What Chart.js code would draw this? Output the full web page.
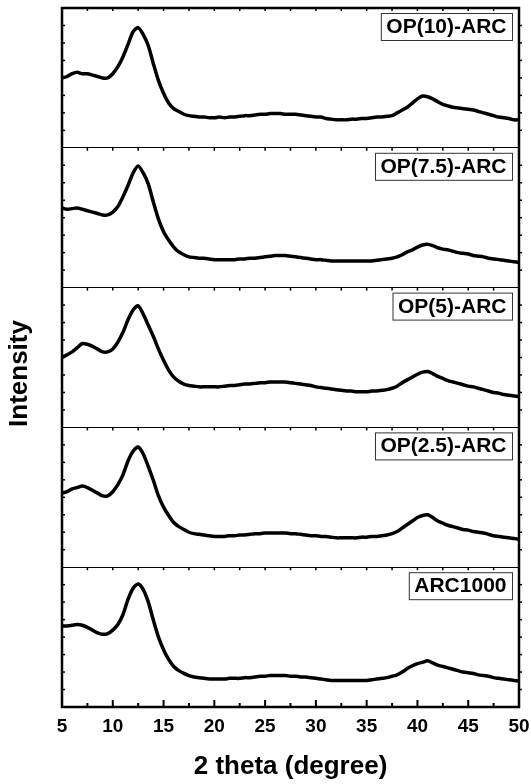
<!DOCTYPE html>
<html>
<head>
<meta charset="utf-8">
<script src="https://cdn.jsdelivr.net/npm/chart.js@4.4.1/dist/chart.umd.min.js"></script>
<style>
  html, body { margin: 0; padding: 0; background: #fff; }
</style>
</head>
<body>
<canvas id="mycanvas" width="531" height="784"></canvas>
<script>
// 2 theta sampling grid (degree)
var twoTheta = [5,5.5,6,6.5,7,7.5,8,8.5,9,9.5,10,10.5,11,11.5,12,12.5,13,13.5,14,14.5,15,15.5,16,16.5,17,17.5,18,18.5,19,19.5,
  20,20.5,21,21.5,22,22.5,23,23.5,24,24.5,25,25.5,26,26.5,27,27.5,28,28.5,29,29.5,30,30.5,31,31.5,32,32.5,33,33.5,34,34.5,
  35,35.5,36,36.5,37,37.5,38,38.5,39,39.5,40,40.5,41,41.5,42,42.5,43,43.5,44,44.5,45,45.5,46,46.5,47,47.5,48,48.5,49,49.5,50];

// intensities, each panel scaled 0-100
var arc1000 = [58,58,58.5,59,58.5,57,55,53,52,52.5,55,59,66,77,85,88,84,75,62,50,41,34,29,26,24,22.5,21.5,21,20.5,20,
  20,20,20,20.5,20.5,20.5,21,21,21.5,22,22,22.5,22.5,22.5,22.5,22,22,21.5,21.5,21,20.5,20,19.5,19,19,19,19,19,19,19,
  19,19.5,20,20.5,21,22,23,25,27.5,29.5,31,32,33,31.5,30,29,28,27,26,25,24.5,24,23,22.5,22,21,20.5,20,19.5,19,18.5];
var op25 = [53,54,56,57,58,57,55,53,51,51,54,59,66,76,83,86,81,72,62,51,43,37,32,29,27,25,24,23.5,23,22.5,
  22,22,22,22.5,22.5,23,23,23.5,24,24,24.5,24.5,24.5,24.5,24.5,24,24,23.5,23,22.5,22.5,22,22,21.5,21,21,21,21,21,21.5,
  21.5,22,22,22.5,23,24,25.5,28,30.5,33,35.5,37,37.5,35.5,33,31.5,30,29,28,27,26.5,25.5,25,24.5,23.5,22.5,22,21.5,21,20.5,20];
var op5 = [50,52,54,57,60,59.5,58,56,54,54,56,61,68,77,84,87,81,73,65,56,48,41,36,33,31,30,29.5,29,29,29,
  29,29,29.5,30,30,30.5,31,31,31.5,32,32,32.5,32.5,32.5,32.5,32,31.5,31,30.5,30,29,28.5,28,27.5,27,26.5,26,26,25.5,25.5,
  25.5,26,26,26.5,27,28,29.5,32,34,36,38,39.5,40,38.5,36.5,35,33.5,32.5,31.5,30.5,29.5,29,28,27,26,25,24.5,23.5,23,22.5,22];
var op75 = [57,56,56.5,57,56,55,54,53,52,52,54,58,65,73,82,87,82,74,61,49,40,34,29,25.5,23.5,22,21.5,21,21,20.5,
  20,20,20,20,20,20.5,20.5,21,21,21.5,22,22.5,23,23,23,22.5,22,21.5,21,20.5,20,20,19.5,19,19,19,19,19,19,19,
  19,19,19.5,20,20.5,21,22,23.5,25.5,27,29,30.5,31,30,28.5,27.5,27,26,25,24.5,24,23,22.5,22,21,20.5,20,19.5,19,18.5,18];
var op10 = [50,51,53,54,53,53,52,51,50,50,53,58,65,74,83,86,81,73,60,48,39,32,28,26,24,23,22.5,22,22,21.5,
  21.5,22,21.5,22,22,22.5,23,23,23.5,24,24,24.5,24.5,24.5,24,24,24,23.5,23,22.5,22,22,21,20.5,20,20,20,20.5,20.5,21,
  21,21.5,22,22,22.5,23,25,27,29,32,35,37,36.5,35,33,31,30,29,28.5,28,27.5,27,26,25,24,23,22,21.5,21,20,20];

// bottom to top
var panelLabels = ['ARC1000', 'OP(2.5)-ARC', 'OP(5)-ARC', 'OP(7.5)-ARC', 'OP(10)-ARC'];
var panelSeries = [arc1000, op25, op5, op75, op10];
var panelSize = 100;

Chart.defaults.font.family = '"Liberation Sans", Arial, sans-serif';
Chart.defaults.color = '#000';

var datasets = panelSeries.map(function(vals, i) {
    return {
        label: panelLabels[i],
        data: vals.map(function(v, j) { return {x: twoTheta[j], y: v + i * panelSize}; }),
        borderColor: '#000',
        borderWidth: 3.5,
        pointRadius: 0,
        tension: 0.25,
        fill: false
    };
});

var framePlugin = {
    id: 'frame',
    afterDatasetsDraw: function(chart) {
        var ctx = chart.ctx, a = chart.chartArea;
        var xs = chart.scales.x, ys = chart.scales.y;
        ctx.save();
        ctx.strokeStyle = '#000';
        // x ticks, bottom axis (inward)
        ctx.lineWidth = 2;
        xs.ticks.forEach(function(t) {
            var px = xs.getPixelForValue(t.value);
            ctx.beginPath(); ctx.moveTo(px, a.bottom); ctx.lineTo(px, a.bottom - 7); ctx.stroke();
            if (t.value + 2.5 < xs.max) {
                var pm = xs.getPixelForValue(t.value + 2.5);
                ctx.beginPath(); ctx.moveTo(pm, a.bottom); ctx.lineTo(pm, a.bottom - 4); ctx.stroke();
            }
        });
        // small ticks under each panel top
        ctx.lineWidth = 1.5;
        for (var k = 1; k <= panelSeries.length; k++) {
            var py = ys.getPixelForValue(k * panelSize);
            xs.ticks.forEach(function(t) {
                [t.value, t.value + 2.5].forEach(function(v) {
                    if (v <= xs.min || v >= xs.max) return;
                    var px = xs.getPixelForValue(v);
                    ctx.beginPath(); ctx.moveTo(px, py); ctx.lineTo(px, py + 3); ctx.stroke();
                });
            });
        }
        // y minor ticks, left inward and right outward
        ys.ticks.forEach(function(t) {
            if (t.value % panelSize === 0) return;
            var py = ys.getPixelForValue(t.value);
            ctx.beginPath(); ctx.moveTo(a.left, py); ctx.lineTo(a.left + 3, py); ctx.stroke();
            ctx.beginPath(); ctx.moveTo(a.right, py); ctx.lineTo(a.right + 3, py); ctx.stroke();
        });
        // frame
        ctx.lineWidth = 2.5;
        ctx.strokeRect(a.left, a.top, a.right - a.left, a.bottom - a.top);

        // panel labels
        ctx.font = 'bold 21px "Liberation Sans", Arial, sans-serif';
        ctx.textBaseline = 'alphabetic';
        ctx.textAlign = 'left';
        panelLabels.forEach(function(lbl, i) {
            var top = ys.getPixelForValue((i + 1) * panelSize) + 5;
            var w = ctx.measureText(lbl).width + 11;
            var left = a.right - 7 - w;
            ctx.fillStyle = '#fff';
            ctx.fillRect(left, top, w, 27);
            ctx.lineWidth = 1;
            ctx.strokeStyle = '#333';
            ctx.strokeRect(left + 0.5, top + 0.5, w, 27);
            ctx.fillStyle = '#000';
            ctx.fillText(lbl, left + 5.5, top + 20);
        });

        // y title
        ctx.font = 'bold 26px "Liberation Sans", Arial, sans-serif';
        ctx.translate(20, (a.top + a.bottom) / 2 + 16);
        ctx.rotate(-Math.PI / 2);
        ctx.textAlign = 'center';
        ctx.textBaseline = 'middle';
        ctx.fillText('Intensity', 0, 0);
        ctx.restore();
    }
};

var ctx = document.getElementById('mycanvas');
var myChart = new Chart(ctx, {
    type: 'line',
    data: { datasets: datasets },
    options: {
        responsive: false,
        animation: false,
        layout: { padding: { top: 8, right: 12, left: 0, bottom: 0 } },
        plugins: { legend: { display: false }, tooltip: { enabled: false } },
        scales: {
            x: {
                type: 'linear',
                min: 5,
                max: 50,
                ticks: { stepSize: 5, padding: 8, font: { size: 19, weight: 'bold' }, color: '#000', maxRotation: 0 },
                grid: { display: false, drawTicks: false },
                border: { display: false },
                title: { display: true, text: '2 theta (degree)', font: { size: 26, weight: 'bold' }, color: '#000',
                         padding: { top: 0, bottom: 2 } },
                afterFit: function(s) { s.height = 77; s.paddingLeft = 0; s.paddingRight = 0; }
            },
            y: {
                min: 0,
                max: panelSize * panelSeries.length,
                ticks: { stepSize: 12.5, display: false },
                grid: {
                    drawTicks: false,
                    color: function(c) { return c.tick && c.tick.value % panelSize === 0 ? '#000' : 'rgba(0,0,0,0)'; },
                    lineWidth: 1
                },
                border: { display: false },
                afterFit: function(s) { s.width = 62; }
            }
        }
    },
    plugins: [framePlugin]
});
</script>
</body>
</html>
